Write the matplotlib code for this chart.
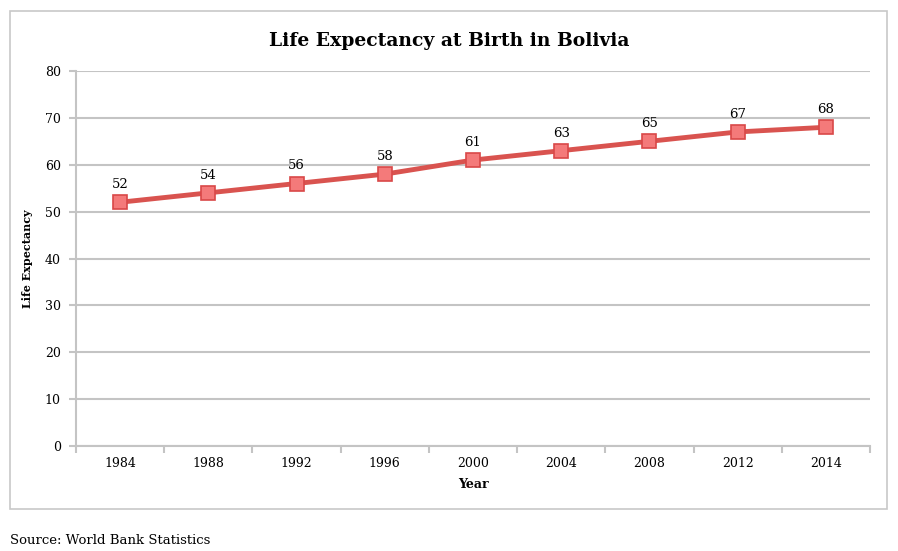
import matplotlib.pyplot as plt
from matplotlib.patches import Rectangle

years = ['1984', '1988', '1992', '1996', '2000', '2004', '2008', '2012', '2014']
life_expectancy = [52, 54, 56, 58, 61, 63, 65, 67, 68]

font = 'DejaVu Serif'
grid_color = '#c4c4c4'

fig = plt.figure(figsize=(8.98, 5.51), dpi=100)
fig.patch.set_facecolor('white')

# outer chart frame
fig.patches.append(Rectangle((10 / 898, 1 - 509 / 551), 877 / 898, 498 / 551,
                             transform=fig.transFigure, fill=False,
                             edgecolor='#c8c8c8', linewidth=1.2))

ax = fig.add_axes([76 / 898, 1 - 446 / 551, 794 / 898, 375 / 551])
x = list(range(len(years)))
ax.plot(x, life_expectancy, color='#d9534f', linewidth=3.5, marker='s',
        markersize=10, markerfacecolor='#f47a7a', markeredgecolor='#d94848',
        markeredgewidth=1.2, zorder=3)

for xi, v in zip(x, life_expectancy):
    ax.annotate(str(v), (xi, v), xytext=(0, 8), textcoords='offset points',
                ha='center', va='bottom', fontsize=9.5, family=font)

ax.set_xlim(-0.5, len(years) - 0.5)
ax.set_ylim(0, 80)
ax.set_yticks(range(0, 81, 10))
ax.set_xticks(x)
ax.set_xticklabels(years, family=font, fontsize=9)
ax.set_xticks([i - 0.5 for i in range(len(years) + 1)], minor=True)
ax.tick_params(axis='x', which='major', length=0, pad=8)
ax.tick_params(axis='x', which='minor', length=5, color=grid_color, width=1.5)
ax.tick_params(axis='y', length=5, color=grid_color, width=1.5, pad=6)
for lbl in ax.get_yticklabels():
    lbl.set_family(font)
    lbl.set_fontsize(9)

ax.grid(axis='y', color=grid_color, linewidth=1.5)
ax.set_axisbelow(True)
for side in ['top', 'right']:
    ax.spines[side].set_visible(False)
for side in ['left', 'bottom']:
    ax.spines[side].set_color(grid_color)
    ax.spines[side].set_linewidth(1.5)

ax.set_xlabel('Year', family=font, fontsize=9, fontweight='bold', labelpad=6)
ax.set_ylabel('Life Expectancy', family=font, fontsize=8, fontweight='bold')
ax.yaxis.set_label_coords(-43 / 794, 0.5)

fig.text(449 / 898, 1 - 41 / 551, 'Life Expectancy at Birth in Bolivia',
         ha='center', va='center', family=font, fontsize=13.5, fontweight='bold')
fig.text(10 / 898, 1 - 540 / 551, 'Source: World Bank Statistics',
         ha='left', va='center', family=font, fontsize=9.5)

fig.savefig('out.png', dpi=100)
